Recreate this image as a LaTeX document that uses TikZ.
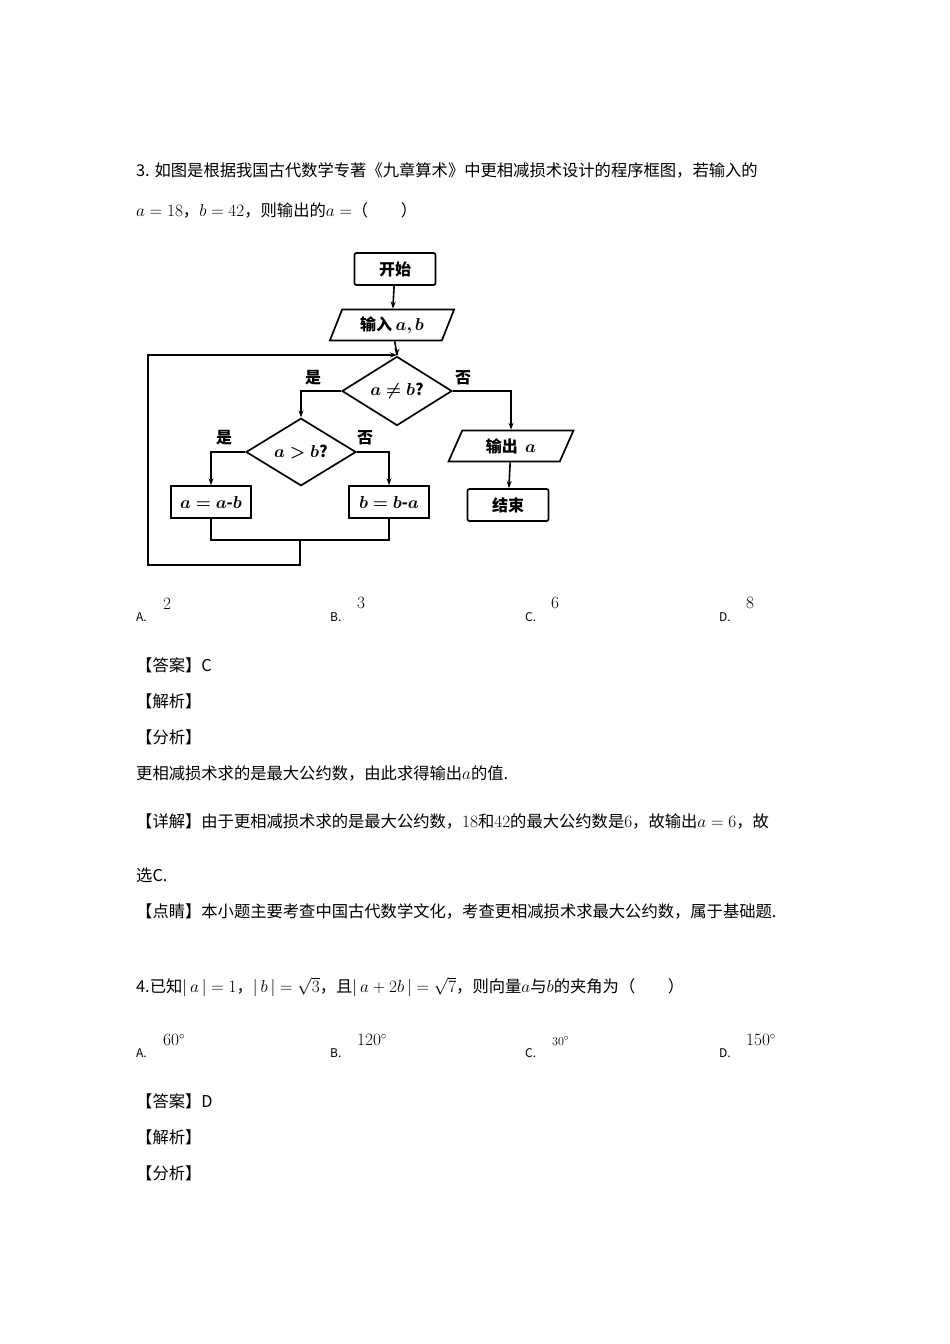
\documentclass[tikz,border=0pt]{standalone}
\usepackage{amsmath}
\usepackage{bm}
\usepackage{fontspec}
\setmainfont{Noto Sans CJK SC}
\usetikzlibrary{shapes.geometric,arrows.meta}
\begin{document}
\begin{tikzpicture}[x=1pt,y=-1pt,font=\fontsize{16.3}{19}\selectfont]
    \tikzstyle{line} = [anchor=west,inner sep=0pt]
    \tikzstyle{terminal} = [draw,line width=1.7pt,rounded corners=2pt,minimum width=81pt,minimum height=32pt,font=\bfseries\fontsize{16}{18}\selectfont]
    \tikzstyle{process} = [draw,line width=1.7pt,minimum width=80pt,minimum height=32pt,font=\bfseries\fontsize{16}{18}\selectfont]
    \tikzstyle{io} = [draw,line width=1.7pt,trapezium,trapezium left angle=70,trapezium right angle=110,trapezium stretches=true,minimum width=125pt,minimum height=31pt,font=\bfseries\fontsize{16}{18}\selectfont]
    \tikzstyle{decision} = [draw,line width=1.7pt,diamond,inner sep=0pt,minimum width=110pt,minimum height=47pt,font=\bfseries\fontsize{16}{18}\selectfont]
    \tikzstyle{flow} = [line width=1.6pt,-{Stealth[length=7pt,width=5pt]}]
    \tikzstyle{ann} = [font=\bfseries\fontsize{16}{18}\selectfont,inner sep=0pt]
    \tikzstyle{opt} = [anchor=west,inner sep=0pt,font=\fontsize{12}{14}\selectfont]
    \useasboundingbox (0,0) rectangle (950,1344);
    \fill[white] (0,0) rectangle (950,1344);
    % question 3
    \node[line] at (136,170) {3. 如图是根据我国古代数学专著《九章算术》中更相减损术设计的程序框图，若输入的};
    \node[line] at (136,210) {$a=18$，$b=42$，则输出的$a=$（　　）};
    % flowchart
    \node[terminal] (start) at (395,269) {开始};
    \node[io] (input) at (392,325) {输入 $\bm{a,b}$};
    \coordinate (join) at (397,355);
    \node[decision] (dec1) at (397,391) {$\bm{a\neq b}$?};
    \node[decision] (dec2) at (301,452) {$\bm{a>b}$?};
    \node[process] (subA) at (211,502) {$\bm{a=a\text{-}b}$};
    \node[process] (subB) at (389,502) {$\bm{b=b\text{-}a}$};
    \node[io] (output) at (511,446) {输出\ \ $\bm{a}$};
    \node[terminal] (stop) at (508,505) {结束};
    \coordinate (merge) at (300,540);
    \draw[flow] (start) -- (input);
    \draw[line width=1.6pt] (input) -- (join);
    \draw[flow] (join) -- (dec1);
    \draw[flow] (dec1.west) -| (dec2.north);
    \draw[flow] (dec1.east) -| (output.north);
    \draw[flow] (output) -- (stop);
    \draw[flow] (dec2.west) -| (subA.north);
    \draw[flow] (dec2.east) -| (subB.north);
    \draw[line width=1.6pt] (subA.south) |- (merge) -| (subB.south);
    \draw[flow] (merge) -- (300,565) -| (148,355) -- (join);
    \node[ann] at (313,378) {是};
    \node[ann] at (463,378) {否};
    \node[ann] at (224,438) {是};
    \node[ann] at (365,438) {否};
    % options
    \node[opt] at (136,617) {A.};
    \node[line] at (163,604) {$2$};
    \node[opt] at (330,617) {B.};
    \node[line] at (357,603) {$3$};
    \node[opt] at (525,617) {C.};
    \node[line] at (551,603) {$6$};
    \node[opt] at (719,617) {D.};
    \node[line] at (746,603) {$8$};
    \node[line] at (136,665) {【答案】C};
    \node[line] at (136,701) {【解析】};
    \node[line] at (136,737) {【分析】};
    \node[line] at (136,773) {更相减损术求的是最大公约数，由此求得输出$a$的值.};
    \node[line] at (136,821) {【详解】由于更相减损术求的是最大公约数，$18$和$42$的最大公约数是$6$，故输出$a=6$，故};
    \node[line] at (136,875) {选C.};
    \node[line] at (136,911) {【点睛】本小题主要考查中国古代数学文化，考查更相减损术求最大公约数，属于基础题.};
    % question 4
    \node[line] at (136,987) {4.已知$|\,a\,|=1$，$|\,b\,|=\sqrt{3}$，且$|\,a+2b\,|=\sqrt{7}$，则向量$a$与$b$的夹角为（　　）};
    \node[opt] at (136,1053) {A.};
    \node[line] at (163,1040) {$60^\circ$};
    \node[opt] at (330,1053) {B.};
    \node[line] at (357,1040) {$120^\circ$};
    \node[opt] at (525,1053) {C.};
    \node[line,font=\fontsize{13}{15}\selectfont] at (552,1041) {$30^\circ$};
    \node[opt] at (719,1053) {D.};
    \node[line] at (746,1040) {$150^\circ$};
    \node[line] at (136,1101) {【答案】D};
    \node[line] at (136,1137) {【解析】};
    \node[line] at (136,1173) {【分析】};
\end{tikzpicture}
\end{document}
